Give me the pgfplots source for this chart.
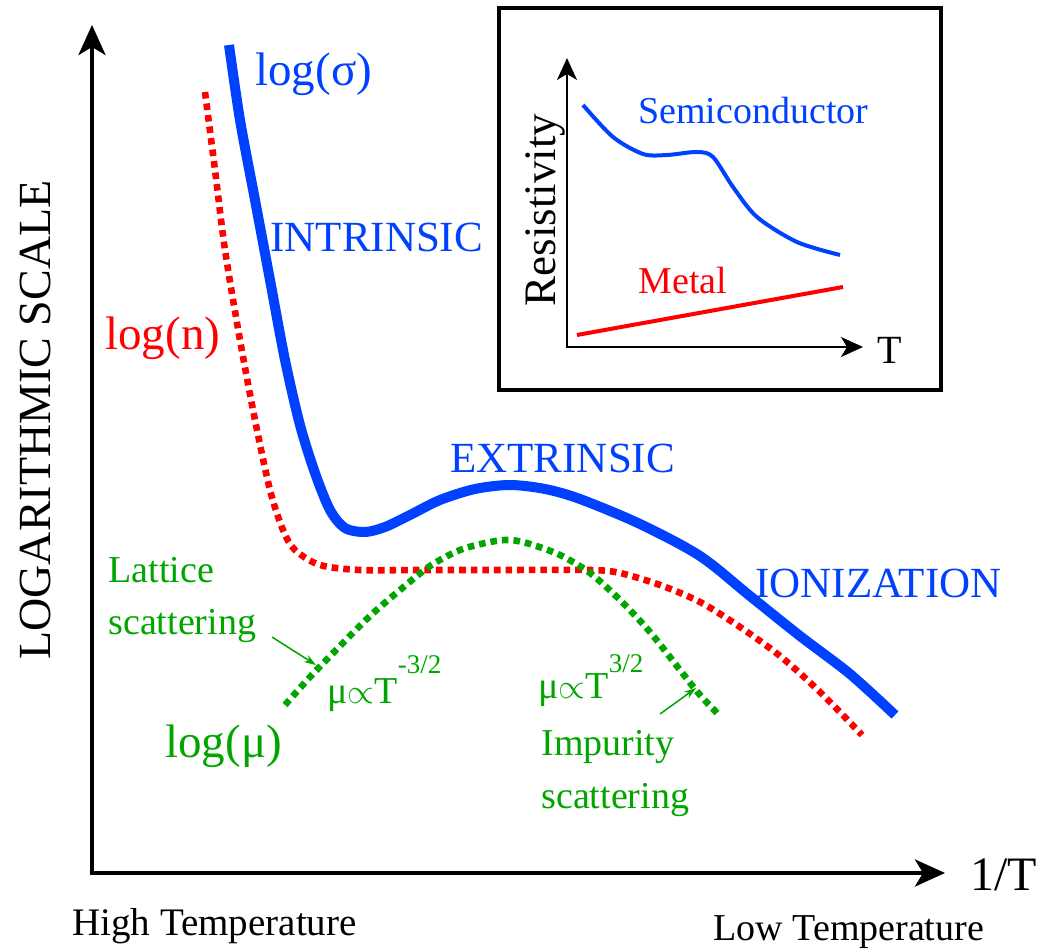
\documentclass[border=0pt]{standalone}
\usepackage{pgfplots}
\pgfplotsset{compat=1.18}
\usepackage{fontspec}
\setmainfont{Liberation Serif}
\usetikzlibrary{arrows.meta}
\definecolor{cblue}{RGB}{0,64,255}
\definecolor{cred}{RGB}{255,0,0}
\definecolor{cgreen}{RGB}{0,165,0}
\newcommand\fs[1]{\fontsize{#1}{#1}\selectfont}
\begin{document}
\begin{tikzpicture}
\begin{axis}[scale only axis, width=519pt, height=475.5pt,
  xmin=0, xmax=1038, ymin=0, ymax=951, y dir=reverse, hide axis, clip=false]
\addplot[draw=none] coordinates {(0,0)(1038,951)};
% main axes
\addplot[black, line width=2pt, line join=miter,
  {Stealth[length=15pt, width=13.5pt, inset=4pt]}-{Stealth[length=15pt, width=13.5pt, inset=4pt]}]
  coordinates {(92,25)(92,873)(945,873)};
% sigma (blue)
\addplot[cblue, line width=5pt, smooth, tension=0.5] coordinates {
(229,45)(240,120)(255,200)(270,280)(285,360)(300,425)(315,473)(330,510)(345,528)(365,532)(385,527)
(410,515)(440,500)(475,489)(510,485)(545,489)(580,499)(640,524)(700,556)(750,596)(800,636)(850,674)(895,715)};
% n (red dotted)
\addplot[cred, line width=3.3pt, dash pattern=on 3.3pt off 2.5pt, smooth, tension=0.5] coordinates {
(205,92)(215,170)(225,250)(240,340)(255,420)(270,490)(283,530)(295,550)(320,565)(360,570)
(420,570)(500,570)(590,570)(620,573)(660,585)(700,602)(740,627)(780,656)(820,692)(862,735)};
% mu (green dotted)
\addplot[cgreen, line width=3.3pt, dash pattern=on 3.3pt off 2.5pt, smooth, tension=0.5] coordinates {
(285,705)(310,677)(340,646)(370,616)(400,590)(430,566)(460,550)(490,542)(510,540)(530,544)
(560,555)(590,573)(620,600)(650,632)(680,670)(700,695)(720,716)};
% green pointer arrows
\addplot[cgreen, line width=0.75pt, -{Stealth[length=6pt, width=4pt]}] coordinates {(272,637)(316,665)};
\addplot[cgreen, line width=0.75pt, -{Stealth[length=6pt, width=4pt]}] coordinates {(660,714)(696,688)};
% inset box
\addplot[black, line width=2pt, line join=miter] coordinates {(499,8)(941,8)(941,390)(499,390)(499,8)(941,8)};
% inset axes
\addplot[black, line width=1pt, line join=miter,
  {Stealth[length=11pt, width=10pt, inset=3pt]}-{Stealth[length=11pt, width=10pt, inset=3pt]}]
  coordinates {(567,58)(567,347)(863,347)};
% inset semiconductor
\addplot[cblue, line width=2pt, smooth, tension=0.5] coordinates {
(583,105)(613,137)(643,154)(667,155)(697,152)(713,157)(733,187)(757,217)(797,242)(840,255)};
% inset metal
\addplot[cred, line width=2pt] coordinates {(577,335)(843,287)};

% text
\node[anchor=base west, inner sep=0, text=cblue, font=\fs{23.5}] at (axis cs:255,86) {log(σ)};
\node[anchor=base west, inner sep=0, text=cblue, font=\fs{21.5}] at (axis cs:270,252) {INTRINSIC};
\node[anchor=base west, inner sep=0, text=cblue, font=\fs{21.5}] at (axis cs:450,473) {EXTRINSIC};
\node[anchor=base west, inner sep=0, text=cblue, font=\fs{21.5}] at (axis cs:755,597) {IONIZATION};
\node[anchor=base west, inner sep=0, text=cred, font=\fs{23.5}] at (axis cs:105,350) {log(n)};
\node[anchor=base west, inner sep=0, text=cgreen, font=\fs{23.5}] at (axis cs:165,757) {log(μ)};
\node[anchor=base west, inner sep=0, text=cgreen, font=\fs{19}] at (axis cs:108,582) {Lattice};
\node[anchor=base west, inner sep=0, text=cgreen, font=\fs{19}] at (axis cs:108,634) {scattering};
\node[anchor=base west, inner sep=0, text=cgreen, font=\fs{19}] at (axis cs:541,755) {Impurity};
\node[anchor=base west, inner sep=0, text=cgreen, font=\fs{19}] at (axis cs:541,808) {scattering};
\node[anchor=base west, inner sep=0, text=cgreen, font=\fs{19}] at (axis cs:327,703) {μ$\propto$T\raisebox{15pt}{\fs{13.5}-3/2}};
\node[anchor=base west, inner sep=0, text=cgreen, font=\fs{19}] at (axis cs:538,698) {μ$\propto$T\raisebox{13pt}{\fs{13.5}3/2}};
\node[anchor=base west, inner sep=0, font=\fs{19.5}] at (axis cs:72,935) {High Temperature};
\node[anchor=base west, inner sep=0, font=\fs{19}] at (axis cs:713,940) {Low Temperature};
\node[anchor=base west, inner sep=0, font=\fs{24}] at (axis cs:970,890) {1/T};
\node[anchor=base, inner sep=0, rotate=90, font=\fs{23}] at (axis cs:50,420) {LOGARITHMIC SCALE};
% inset text
\node[anchor=base west, inner sep=0, text=cblue, font=\fs{19}] at (axis cs:638,124) {Semiconductor};
\node[anchor=base west, inner sep=0, text=cred, font=\fs{19}] at (axis cs:638,294) {Metal};
\node[anchor=base west, inner sep=0, font=\fs{20}] at (axis cs:877,364) {T};
\node[anchor=base, inner sep=0, rotate=90, font=\fs{22.5}] at (axis cs:555,210) {Resistivity};
\end{axis}
\end{tikzpicture}
\end{document}
